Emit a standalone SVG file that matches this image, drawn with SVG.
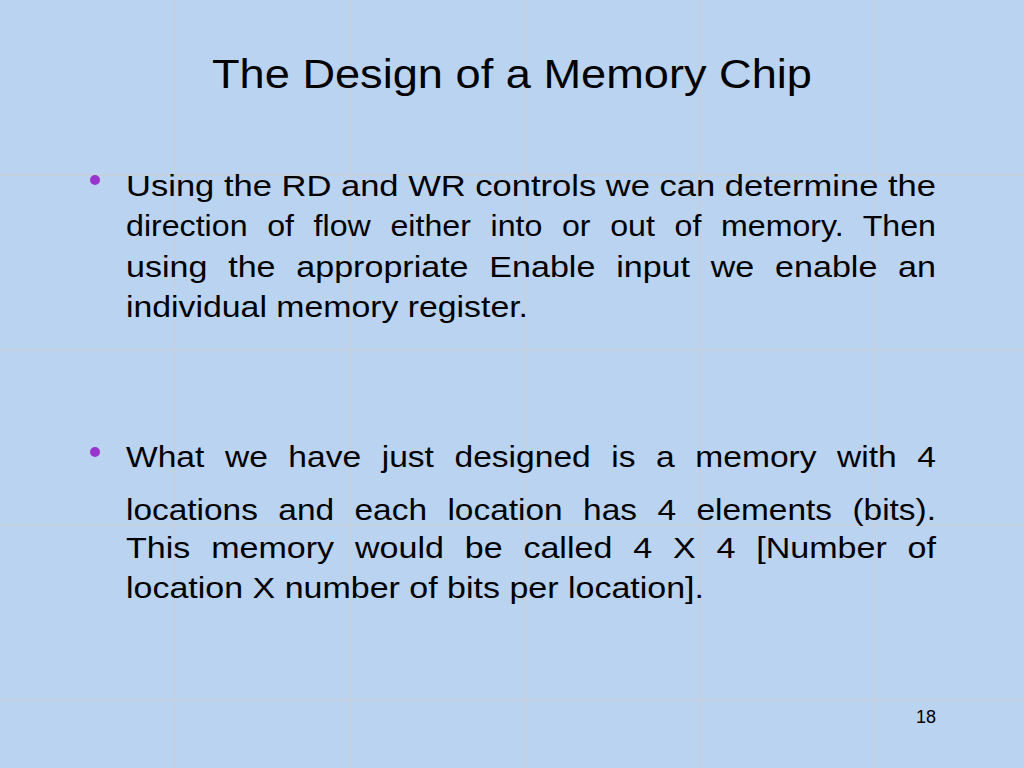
<svg xmlns="http://www.w3.org/2000/svg" width="1024" height="768" viewBox="0 0 1024 768">
<style>
.t{font-family:"Liberation Sans",Arial,sans-serif;font-size:30px;fill:#000}
.w{word-spacing:10px}
.g{stroke:#c4cfe0;stroke-width:2}
</style>
<rect width="1024" height="768" fill="#b9d3f0"/>
<g class="g">
<line x1="175" y1="0" x2="175" y2="768"/><line x1="350" y1="0" x2="350" y2="768"/><line x1="525" y1="0" x2="525" y2="768"/><line x1="700" y1="0" x2="700" y2="768"/><line x1="875" y1="0" x2="875" y2="768"/>
<line x1="0" y1="175" x2="1024" y2="175"/><line x1="0" y1="350" x2="1024" y2="350"/><line x1="0" y1="525" x2="1024" y2="525"/><line x1="0" y1="700" x2="1024" y2="700"/>
</g>
<text x="212" y="88" textLength="600" lengthAdjust="spacingAndGlyphs" font-family="Liberation Sans,Arial,sans-serif" font-size="41">The Design of a Memory Chip</text>
<circle cx="95" cy="180" r="5" fill="#9933cc"/>
<circle cx="95" cy="452" r="5" fill="#9933cc"/>
<text class="t" x="126" y="196" textLength="810" lengthAdjust="spacingAndGlyphs">Using the RD and WR controls we can determine the</text>
<text class="t w" x="126" y="236" textLength="810" lengthAdjust="spacingAndGlyphs">direction of flow either into or out of memory. Then</text>
<text class="t w" x="126" y="277" textLength="810" lengthAdjust="spacingAndGlyphs">using the appropriate Enable input we enable an</text>
<text class="t" x="126" y="317" textLength="402" lengthAdjust="spacingAndGlyphs">individual memory register.</text>
<text class="t w" x="126" y="467" textLength="810" lengthAdjust="spacingAndGlyphs">What we have just designed is a memory with 4</text>
<text class="t w" x="126" y="520" textLength="810" lengthAdjust="spacingAndGlyphs">locations and each location has 4 elements (bits).</text>
<text class="t w" x="126" y="558" textLength="810" lengthAdjust="spacingAndGlyphs">This memory would be called 4 X 4 [Number of</text>
<text class="t" x="126" y="598" textLength="578" lengthAdjust="spacingAndGlyphs">location X number of bits per location].</text>
<text x="926" y="723" text-anchor="middle" font-family="Liberation Sans,Arial,sans-serif" font-size="18">18</text>
</svg>
